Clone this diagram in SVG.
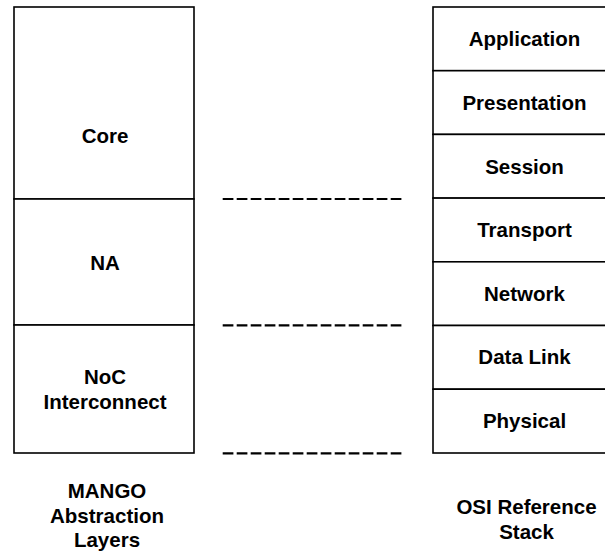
<svg xmlns="http://www.w3.org/2000/svg" width="605" height="556" viewBox="0 0 605 556">
<style>
.box{fill:#fff;stroke:#000;stroke-width:1.6}
.t{font-family:"Liberation Sans",Arial,sans-serif;font-weight:bold;font-size:20.5px;text-anchor:middle;fill:#000}
.dash{stroke:#000;stroke-width:2.2;stroke-dasharray:10.7 3.3;fill:none}
</style>
<rect width="605" height="556" fill="#fff"/>
<g id="core"><rect class="box" x="14" y="7" width="180" height="192"/><text class="t" x="105" y="143">Core</text></g>
<g id="na"><rect class="box" x="14" y="199" width="180" height="126"/><text class="t" x="105" y="270">NA</text></g>
<g id="noc"><rect class="box" x="14" y="325" width="180" height="128"/><text class="t" x="105" y="383.5">NoC</text><text class="t" x="105" y="409">Interconnect</text></g>
<g id="mango-label"><text class="t" x="107" y="497.5">MANGO</text><text class="t" x="107" y="522.5">Abstraction</text><text class="t" x="107" y="547">Layers</text></g>
<g id="application"><rect class="box" x="433" y="7" width="182" height="63.7"/><text class="t" x="524.5" y="46">Application</text></g>
<g id="presentation"><rect class="box" x="433" y="70.7" width="182" height="63.7"/><text class="t" x="524.5" y="110">Presentation</text></g>
<g id="session"><rect class="box" x="433" y="134.4" width="182" height="63.7"/><text class="t" x="524.5" y="173.5">Session</text></g>
<g id="transport"><rect class="box" x="433" y="198.1" width="182" height="63.7"/><text class="t" x="524.5" y="237">Transport</text></g>
<g id="network"><rect class="box" x="433" y="261.8" width="182" height="63.7"/><text class="t" x="524.5" y="300.5">Network</text></g>
<g id="datalink"><rect class="box" x="433" y="325.5" width="182" height="63.7"/><text class="t" x="524.5" y="364">Data Link</text></g>
<g id="physical"><rect class="box" x="433" y="389.2" width="182" height="63.8"/><text class="t" x="524.5" y="428">Physical</text></g>
<g id="osi-label"><text class="t" x="526.5" y="513.5">OSI Reference</text><text class="t" x="526.5" y="538.5">Stack</text></g>
<g id="connectors">
<line class="dash" x1="222.7" y1="199" x2="402.7" y2="199"/>
<line class="dash" x1="222.7" y1="325.3" x2="402.7" y2="325.3"/>
<line class="dash" x1="222.7" y1="453.3" x2="402.7" y2="453.3"/>
</g>
</svg>
